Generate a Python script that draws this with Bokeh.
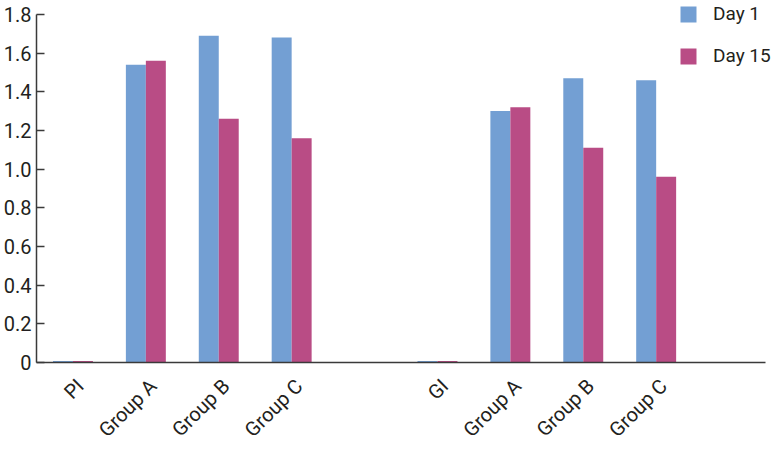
from bokeh.plotting import figure
from bokeh.models import FixedTicker, Legend, LegendItem, NumeralTickFormatter
from bokeh.embed import file_html
from bokeh.resources import INLINE
import math

# ---- data ----
group1_labels = ["PI", "Group A", "Group B", "Group C"]
group2_labels = ["GI", "Group A", "Group B", "Group C"]
day1_g1 = [0.008, 1.54, 1.69, 1.68]
day15_g1 = [0.008, 1.56, 1.26, 1.16]
day1_g2 = [0.008, 1.30, 1.47, 1.46]
day15_g2 = [0.008, 1.32, 1.11, 0.96]
series_names = ["Day 1", "Day 15"]
y_ticks = [0, 0.2, 0.4, 0.6, 0.8, 1.0, 1.2, 1.4, 1.6, 1.8]

BLUE = "#739fd3"
PINK = "#b94c85"
FONT = "Roboto"
TXT = "#231f20"
AX = "#3a3a3a"

# slot positions: group 1 in slots 0..3, gap slot 4, group 2 in slots 5..8, gap slot 9
pos = [i + 0.5 for i in range(4)] + [i + 5.5 for i in range(4)]
labels = group1_labels + group2_labels
day1 = day1_g1 + day1_g2
day15 = day15_g1 + day15_g2
bw = 0.274
label_shift = 0.1
y_max = 1.8
n_slots = 10

# frame spans the whole top/right of the canvas so the legend is not clipped;
# axis lines are limited with bounds
p = figure(width=778, height=453, output_backend="svg", toolbar_location=None,
           x_range=(0, n_slots * 743 / 730), y_range=(0, y_max * 365 / 351))
p.min_border_left = 35
p.min_border_right = 0
p.min_border_top = 0
p.min_border_bottom = 88
p.outline_line_color = None
p.grid.visible = False
p.background_fill_color = "white"

r1 = p.vbar(x=[x - bw / 2 for x in pos], top=day1, width=bw, bottom=0,
            fill_color=BLUE, line_color=None)
r2 = p.vbar(x=[x + bw / 2 for x in pos], top=day15, width=bw, bottom=0,
            fill_color=PINK, line_color=None)

# x axis
tick_pos = [x + label_shift for x in pos]
xa = p.xaxis[0]
xa.bounds = (0, n_slots)
xa.ticker = FixedTicker(ticks=tick_pos)
xa.major_label_overrides = {x: l for x, l in zip(tick_pos, labels)}
xa.major_label_orientation = math.pi / 4
xa.major_tick_in = 0
xa.major_tick_out = 0
xa.minor_tick_line_color = None
xa.axis_line_color = AX
xa.axis_line_width = 1.5
xa.major_label_text_font = FONT
xa.major_label_text_font_size = "20px"
xa.major_label_text_color = TXT
xa.major_label_standoff = 20

# y axis
ya = p.yaxis[0]
ya.bounds = (0, y_max)
ya.ticker = FixedTicker(ticks=y_ticks)
ya.formatter = NumeralTickFormatter(format="0.0")
ya.major_label_overrides = {0: "0"}
ya.major_tick_in = 8
ya.major_tick_out = 0
ya.major_tick_line_color = AX
ya.major_tick_line_width = 1.5
ya.minor_tick_line_color = None
ya.axis_line_color = AX
ya.axis_line_width = 1.5
ya.major_label_text_font = FONT
ya.major_label_text_font_size = "20px"
ya.major_label_text_color = TXT
ya.major_label_standoff = 5

legend = Legend(items=[LegendItem(label=series_names[0], renderers=[r1]),
                       LegendItem(label=series_names[1], renderers=[r2])],
                location=(642, 295))
legend.glyph_width = 20
legend.glyph_height = 20
legend.label_height = 20
legend.spacing = 19
legend.padding = 0
legend.margin = 0
legend.label_standoff = 15
legend.border_line_color = None
legend.background_fill_alpha = 0
legend.label_text_font = FONT
legend.label_text_font_size = "19px"
legend.label_text_color = TXT
p.add_layout(legend, "center")

open("out.html", "w").write(file_html(p, INLINE))
